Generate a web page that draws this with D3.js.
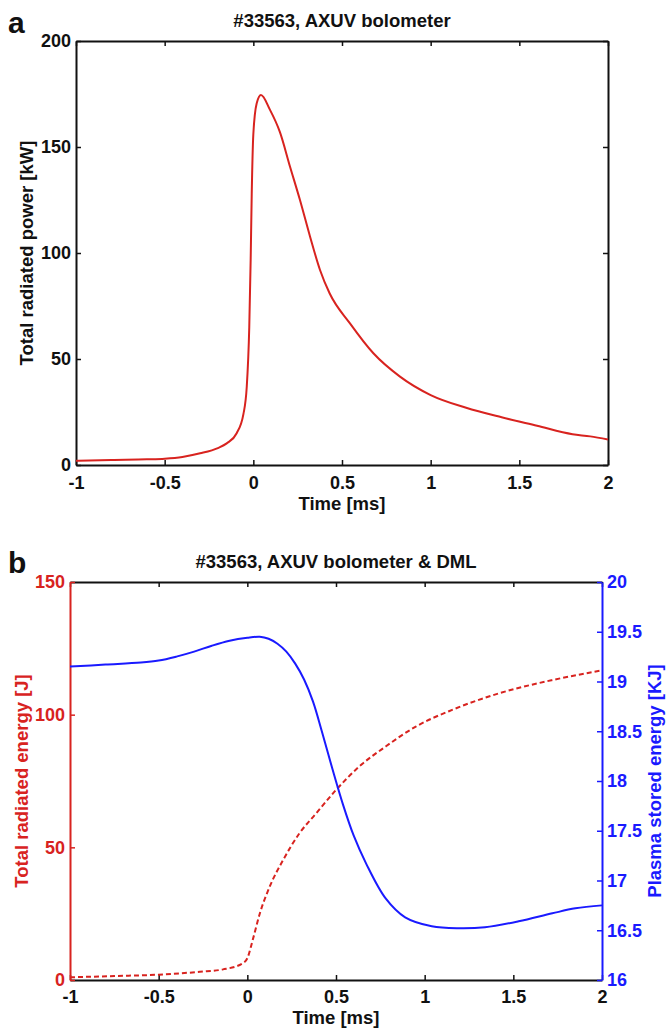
<!DOCTYPE html>
<html><head><meta charset="utf-8">
<script src="https://cdn.jsdelivr.net/npm/d3@7"></script>
<style>
body{margin:0;background:#fff;}
text{font-family:"Liberation Sans",Arial,sans-serif;font-weight:bold;}
</style></head>
<body><svg id="c" width="666" height="1029"></svg>
<script>
// ---- Data ----
const xTicks = [-1, -0.5, 0, 0.5, 1, 1.5, 2];
const xTickLabels = ["-1", "-0.5", "0", "0.5", "1", "1.5", "2"];
const yTicksA = [0, 50, 100, 150, 200];
const yTicksBLeft = [0, 50, 100, 150];
const yTicksBRight = [16, 16.5, 17, 17.5, 18, 18.5, 19, 19.5, 20];
const yTickLabelsBRight = ["16","16.5","17","17.5","18","18.5","19","19.5","20"];

// Panel a: total radiated power [kW]
const timeA  = [-1, -0.8, -0.6, -0.5, -0.4, -0.3, -0.2, -0.15, -0.094, -0.056, -0.037, -0.023, -0.015, -0.009, 0.0, 0.019, 0.043, 0.094, 0.15, 0.207, 0.263, 0.32, 0.376, 0.43, 0.545, 0.677, 0.827, 1.0, 1.2, 1.4, 1.6, 1.8, 1.9, 2.0];
const powerA = [2, 2.4, 2.7, 3, 3.8, 5.5, 8, 10.2, 15, 24, 37, 65, 97, 128, 156, 170.6, 174.5, 167.5, 157, 140.7, 125, 107.7, 92, 81, 66.8, 52.7, 41.7, 33, 27, 22.5, 18.5, 14.5, 13.5, 12];

// Panel b: total radiated energy [J] (dashed red)
const timeE   = [-1, -0.75, -0.5, -0.268, -0.137, -0.025, 0.0, 0.03, 0.07, 0.125, 0.2, 0.294, 0.388, 0.5, 0.63, 0.78, 0.95, 1.155, 1.417, 1.717, 2.0];
const energyJ = [1.0, 1.5, 2.0, 3.1, 4.0, 6.3, 8.2, 15, 25, 35, 45, 55.3, 62.8, 71.6, 80.4, 88, 95.5, 101.8, 108, 113, 116.7];

// Panel b: plasma stored energy [kJ] (solid blue)
const timeW    = [-1, -0.8, -0.6, -0.5, -0.4, -0.3, -0.2, -0.1, 0.0, 0.07, 0.12, 0.17, 0.22, 0.27, 0.32, 0.37, 0.42, 0.48, 0.54, 0.6, 0.67, 0.78, 0.89, 1.04, 1.19, 1.34, 1.53, 1.72, 1.85, 2.0];
const storedKJ = [19.15, 19.17, 19.19, 19.21, 19.25, 19.30, 19.36, 19.41, 19.44, 19.45, 19.43, 19.38, 19.30, 19.18, 19.02, 18.80, 18.50, 18.12, 17.76, 17.45, 17.17, 16.82, 16.63, 16.54, 16.52, 16.53, 16.59, 16.67, 16.72, 16.75];

// ---- Drawing ----
const RED = "#d8231f", BLUE = "#1a1aff", INK = "#111";
const TICKFS = 18, LABELFS = 18.5, TITLEFS = 18.5, LETTERFS = 30;
const svg = d3.select("#c");
const tickLen = 5;

function styleAxis(g, col, fs) {
  g.selectAll(".domain").attr("stroke", col).attr("stroke-width", 2);
  g.selectAll(".tick line").attr("stroke", col).attr("stroke-width", 1.5);
  g.selectAll(".tick text").attr("font-size", fs).attr("fill", col)
    .attr("font-family", "Liberation Sans, Arial, sans-serif").attr("font-weight", "bold");
}

// Panel a
const A = {l:76, r:608, t:41, b:465};
const xA = d3.scaleLinear().domain([-1,2]).range([A.l, A.r]);
const yA = d3.scaleLinear().domain([0,200]).range([A.b, A.t]);

const ga = svg.append("g");
const abx = ga.append("g").attr("transform",`translate(0,${A.b})`)
  .call(d3.axisBottom(xA).tickValues(xTicks).tickFormat((d,i)=>xTickLabels[i]).tickSizeInner(-tickLen).tickSizeOuter(0).tickPadding(10));
abx.selectAll(".tick text").attr("dy", null).attr("y", 24);
ga.append("g").attr("transform",`translate(0,${A.t})`)
  .call(d3.axisTop(xA).tickValues(xTicks).tickFormat("").tickSizeInner(-tickLen).tickSizeOuter(0));
ga.append("g").attr("transform",`translate(${A.l},0)`)
  .call(d3.axisLeft(yA).tickValues(yTicksA).tickSizeInner(-tickLen).tickSizeOuter(0).tickPadding(5));
ga.append("g").attr("transform",`translate(${A.r},0)`)
  .call(d3.axisRight(yA).tickValues(yTicksA).tickFormat("").tickSizeInner(-tickLen).tickSizeOuter(0));
styleAxis(ga, INK, TICKFS);

const lineA = d3.line().x((d,i)=>xA(timeA[i])).y(d=>yA(d)).curve(d3.curveMonotoneX);
ga.append("path").attr("d", lineA(powerA)).attr("fill","none").attr("stroke",RED).attr("stroke-width",2);

ga.append("text").attr("x",(A.l+A.r)/2).attr("y",27).attr("text-anchor","middle").attr("font-size",TITLEFS).attr("fill",INK).text("#33563, AXUV bolometer");
ga.append("text").attr("x",8).attr("y",33).attr("font-size",LETTERFS).attr("fill",INK).text("a");
ga.append("text").attr("x",(A.l+A.r)/2).attr("y",510).attr("text-anchor","middle").attr("font-size",LABELFS).attr("fill",INK).text("Time [ms]");
ga.append("text").attr("transform",`translate(33,${(A.t+A.b)/2}) rotate(-90)`).attr("text-anchor","middle").attr("font-size",LABELFS).attr("fill",INK).text("Total radiated power [kW]");

// Panel b
const B = {l:70, r:602, t:582, b:980};
const xB = d3.scaleLinear().domain([-1,2]).range([B.l, B.r]);
const yBL = d3.scaleLinear().domain([0,150]).range([B.b, B.t]);
const yBR = d3.scaleLinear().domain([16,20]).range([B.b, B.t]);

const gb = svg.append("g");
const bx = gb.append("g").attr("transform",`translate(0,${B.b})`)
  .call(d3.axisBottom(xB).tickValues(xTicks).tickFormat((d,i)=>xTickLabels[i]).tickSizeInner(-tickLen).tickSizeOuter(0).tickPadding(10));
bx.selectAll(".tick text").attr("dy", null).attr("y", 23);
const tx = gb.append("g").attr("transform",`translate(0,${B.t})`)
  .call(d3.axisTop(xB).tickValues(xTicks).tickFormat("").tickSizeInner(-tickLen).tickSizeOuter(0));
styleAxis(bx, INK, TICKFS);
styleAxis(tx, INK, TICKFS);
const lax = gb.append("g").attr("transform",`translate(${B.l},0)`)
  .call(d3.axisLeft(yBL).tickValues(yTicksBLeft).tickSizeInner(-tickLen).tickSizeOuter(0).tickPadding(5));
styleAxis(lax, RED, TICKFS);
const rax = gb.append("g").attr("transform",`translate(${B.r},0)`)
  .call(d3.axisRight(yBR).tickValues(yTicksBRight).tickFormat((d,i)=>yTickLabelsBRight[i]).tickSizeInner(-tickLen).tickSizeOuter(0).tickPadding(5));
styleAxis(rax, BLUE, TICKFS);

const lineE = d3.line().x((d,i)=>xB(timeE[i])).y(d=>yBL(d)).curve(d3.curveMonotoneX);
gb.append("path").attr("d", lineE(energyJ)).attr("fill","none").attr("stroke",RED).attr("stroke-width",2).attr("stroke-dasharray","5,3");
const lineW = d3.line().x((d,i)=>xB(timeW[i])).y(d=>yBR(d)).curve(d3.curveCatmullRom.alpha(0.5));
gb.append("path").attr("d", lineW(storedKJ)).attr("fill","none").attr("stroke",BLUE).attr("stroke-width",2);

gb.append("text").attr("x",(B.l+B.r)/2).attr("y",568).attr("text-anchor","middle").attr("font-size",TITLEFS).attr("fill",INK).text("#33563, AXUV bolometer & DML");
gb.append("text").attr("x",8).attr("y",573).attr("font-size",LETTERFS).attr("fill",INK).text("b");
gb.append("text").attr("x",(B.l+B.r)/2).attr("y",1024).attr("text-anchor","middle").attr("font-size",LABELFS).attr("fill",INK).text("Time [ms]");
gb.append("text").attr("transform",`translate(28,${(B.t+B.b)/2}) rotate(-90)`).attr("text-anchor","middle").attr("font-size",LABELFS).attr("fill",RED).text("Total radiated energy [J]");
gb.append("text").attr("transform",`translate(661,${(B.t+B.b)/2}) rotate(-90)`).attr("text-anchor","middle").attr("font-size",LABELFS).attr("fill",BLUE).text("Plasma stored energy [KJ]");
</script></body></html>
